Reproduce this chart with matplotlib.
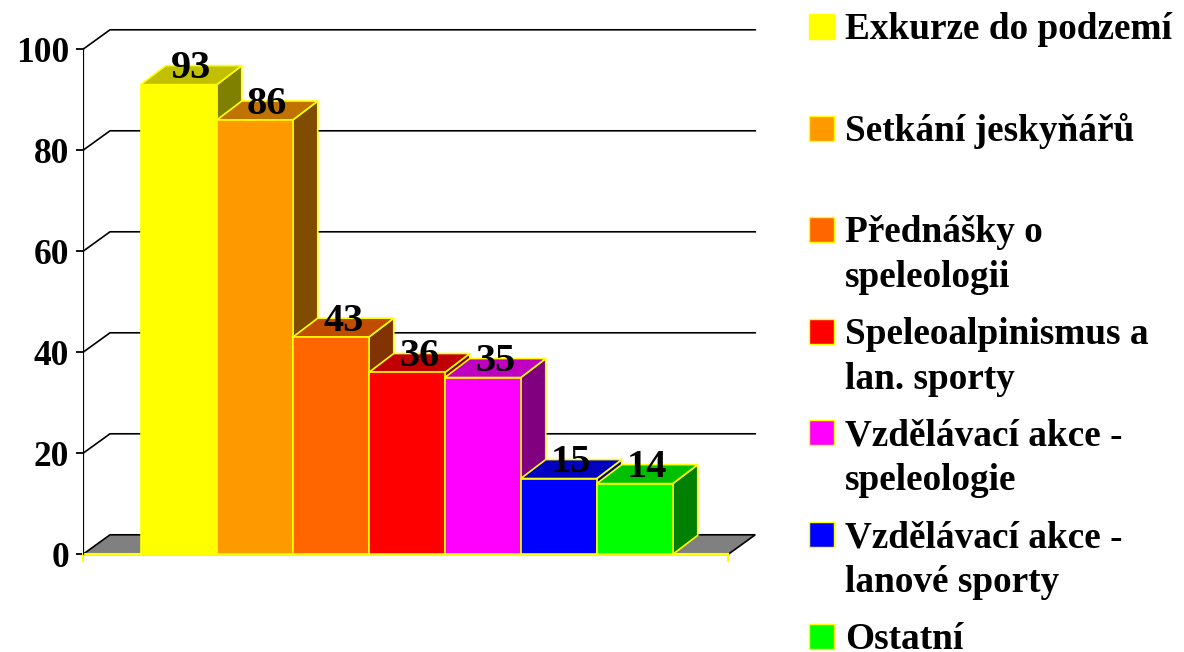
import matplotlib
matplotlib.use("Agg")
import matplotlib.pyplot as plt
from matplotlib.patches import Polygon, Rectangle

# data
categories = [
    "Exkurze do podzemí",
    "Setkání jeskyňářů",
    "Přednášky o\nspeleologii",
    "Speleoalpinismus a\nlan. sporty",
    "Vzdělávací akce -\nspeleologie",
    "Vzdělávací akce -\nlanové sporty",
    "Ostatní",
]
values = [93, 86, 43, 36, 35, 15, 14]
front_colors = ["#FFFF00", "#FF9900", "#FF6600", "#FF0000", "#FF00FF", "#0000FF", "#00FF00"]
top_colors = ["#C0C000", "#C07300", "#C04C00", "#C00000", "#C000C0", "#0000C0", "#00C000"]
side_colors = ["#808000", "#804C00", "#803300", "#800000", "#800080", "#000080", "#008000"]
y_ticks = [0, 20, 40, 60, 80, 100]

# layout (pixels of the 1184x652 figure)
W, H, DPI = 1184, 652, 100
PX_BAR = 76.0      # width of one bar
PX_UNIT = 5.05     # one value unit
GAP_L, GAP_R = 0.76, 0.73          # floor margins, in bar widths
WALL_DX, WALL_DY = 27 / PX_BAR, 19.5 / PX_UNIT
BAR_DX, BAR_DY = 25 / PX_BAR, 19 / PX_UNIT
EDGE = "#FFFF00"
FONT = dict(family="Liberation Serif", weight="bold")

fig = plt.figure(figsize=(W / DPI, H / DPI), dpi=DPI)
fig.patch.set_facecolor("white")

left_px, right_px, top_px, bottom_px, zero_px = 83, 783, 20, 580, 554.3
ax = fig.add_axes([left_px / W, 1 - bottom_px / H,
                   (right_px - left_px) / W, (bottom_px - top_px) / H])
ax.set_xlim(-GAP_L, -GAP_L + (right_px - left_px) / PX_BAR)
ax.set_ylim(-(bottom_px - zero_px) / PX_UNIT, (zero_px - top_px) / PX_UNIT)
for s in ax.spines.values():
    s.set_visible(False)
ax.set_xticks([])

x0 = -GAP_L
x1 = len(values) + GAP_R

# back wall grid lines (with the short diagonal on the left wall)
for t in y_ticks[1:]:
    ax.plot([x0, x0 + WALL_DX, x1 + WALL_DX], [t, t + WALL_DY, t + WALL_DY],
            color="black", lw=1.2, zorder=1, solid_joinstyle="miter")

# floor
floor = Polygon([(x0, 0), (x1, 0), (x1 + WALL_DX, WALL_DY), (x0 + WALL_DX, WALL_DY)],
                closed=True, facecolor="#808080", edgecolor="black", lw=1.2, zorder=1)
ax.add_patch(floor)
ax.plot([x0, x1], [0, 0], color=EDGE, lw=1.5, zorder=2)
for xe in (x0, x1):
    ax.plot([xe, xe], [0, -7 / PX_UNIT], color=EDGE, lw=1.5, zorder=2, clip_on=False)

# value axis
ax.plot([x0, x0], [0, y_ticks[-1]], color="black", lw=1.6, zorder=3)
ax.set_yticks(y_ticks)
ax.set_yticklabels([str(t) for t in y_ticks], fontsize=25.5, **FONT)
ax.tick_params(axis="y", direction="out", length=5, width=1.3, pad=5, color="black")

# bars, left to right so each front face hides the previous side face
for i, (v, fc, tc, sc) in enumerate(zip(values, front_colors, top_colors, side_colors)):
    side = Polygon([(i + 1, 0), (i + 1 + BAR_DX, BAR_DY), (i + 1 + BAR_DX, v + BAR_DY), (i + 1, v)],
                   closed=True, facecolor=sc, edgecolor=EDGE, lw=1.2, zorder=4 + i)
    top = Polygon([(i, v), (i + 1, v), (i + 1 + BAR_DX, v + BAR_DY), (i + BAR_DX, v + BAR_DY)],
                  closed=True, facecolor=tc, edgecolor=EDGE, lw=1.2, zorder=4 + i)
    ax.add_patch(side)
    ax.add_patch(top)
    ax.bar(i, v, width=1, align="edge", color=fc, edgecolor=EDGE, lw=1.2, zorder=4 + i)

for i, v in enumerate(values):
    ax.text(i + 0.5 + BAR_DX / 2, v + BAR_DY - 0.6, str(v), ha="center", va="center",
            fontsize=29, zorder=20, **FONT)

# legend, drawn in pixel coordinates
lax = fig.add_axes([0, 0, 1, 1])
lax.set_xlim(0, W)
lax.set_ylim(H, 0)
lax.axis("off")
lax.patch.set_alpha(0)
LEG_BASE, LEG_STEP, LINE_STEP = 39, 101.6, 45
for i, (label, fc) in enumerate(zip(categories, front_colors)):
    base = LEG_BASE + i * LEG_STEP
    lax.add_patch(Rectangle((809, base - 25), 25, 25, facecolor=fc, edgecolor=EDGE, lw=1))
    for j, line in enumerate(label.split("\n")):
        lax.text(845, base + j * LINE_STEP, line, ha="left", va="baseline",
                 fontsize=26.8, **FONT)

fig.savefig("out.png", dpi=DPI)
